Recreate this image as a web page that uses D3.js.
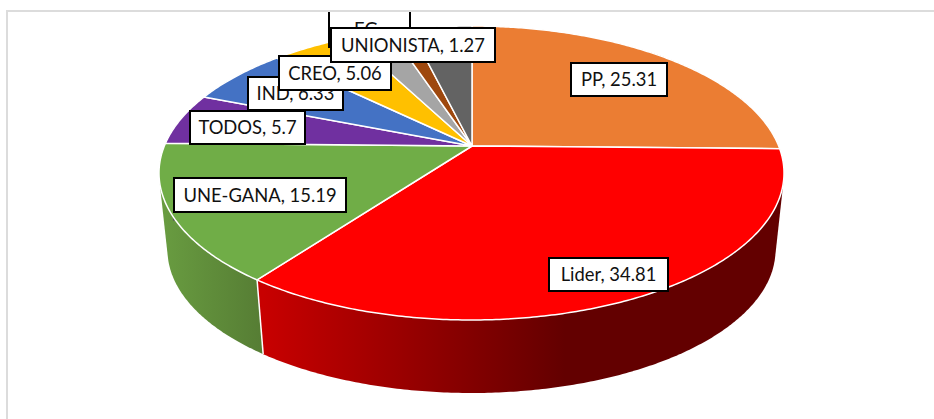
<!DOCTYPE html>
<html>
<head>
<meta charset="utf-8">
<script src="https://cdn.jsdelivr.net/npm/d3@7"></script>
<style>
  html, body { margin: 0; padding: 0; background: #fff; }
  svg { display: block; }
  text { font-family: Lato, "Open Sans", sans-serif; fill: #111; }
</style>
</head>
<body>
<svg></svg>
<script>
var width = 934,
  height = 419;

// slices, clockwise from 12 o'clock
var parties = ["PP", "Lider", "UNE-GANA", "TODOS", "IND", "CREO", "EG", "UNIONISTA", "Otros"];
var seatShare = [25.31, 34.81, 15.19, 5.7, 6.33, 5.06, 2.53, 1.27, 3.8];
var sliceColors = ["#eb7d33", "#ff0000", "#70ad47", "#7030a0", "#4472c4", "#ffc000", "#a5a5a5", "#9e480e", "#636363"];

// label text as it can be read, EG is cut off in the picture
var labelText = {
  "PP": "PP, 25.31",
  "Lider": "Lider, 34.81",
  "UNE-GANA": "UNE-GANA, 15.19",
  "TODOS": "TODOS, 5.7",
  "IND": "IND, 6.33",
  "CREO": "CREO, 5.06",
  "EG": "EG",
  "UNIONISTA": "UNIONISTA, 1.27"
};

// hand placed boxes, in drawing order: x0, y0, x1, y1
var labelBoxes = [
  ["PP", 571, 63, 667, 96],
  ["Lider", 549, 258, 668, 291],
  ["UNE-GANA", 174, 178, 346, 212],
  ["IND", 248, 77, 343, 110],
  ["TODOS", 190, 111, 305, 144],
  ["CREO", 279, 56, 391, 90],
  ["EG", 329, -10, 410, 47],
  ["UNIONISTA", 331, 28, 495, 62]
];

var svg = d3.select("svg")
  .attr("width", width)
  .attr("height", height);

var color = d3.scaleOrdinal().domain(parties).range(sliceColors);

var pie = d3.pie().sort(null).value(function (d) { return d.value; });
var slices = pie(parties.map(function (p, i) { return { name: p, value: seatShare[i] }; }));

// top and bottom rim of the tilted disc, the hub sits above the ellipse centre
var topRim = { cx: 471.5, cy: 173, rx: 312.5, ry: 147, hubX: 472, hubY: 146 };
var bottomRim = { cx: 471.5, cy: 250, rx: 304, ry: 143, hubX: 472, hubY: 224 };
var squash = 0.46;

// walk from the hub along the squashed direction until we hit the ellipse
function rimPoint(rim, angle) {
  var dx = Math.sin(angle), dy = -squash * Math.cos(angle);
  var ox = (rim.hubX - rim.cx) / rim.rx, oy = (rim.hubY - rim.cy) / rim.ry;
  var ux = dx / rim.rx, uy = dy / rim.ry;
  var a = ux * ux + uy * uy,
    b = 2 * (ox * ux + oy * uy),
    c = ox * ox + oy * oy - 1;
  var t = (-b + Math.sqrt(b * b - 4 * a * c)) / (2 * a);
  return [rim.hubX + t * dx, rim.hubY + t * dy];
}

function rimArc(rim, a0, a1) {
  var n = Math.max(2, Math.ceil((a1 - a0) / 0.01));
  return d3.range(n + 1).map(function (i) { return rimPoint(rim, a0 + (a1 - a0) * i / n); });
}

var edgeLine = d3.line();
var closedLine = d3.line().curve(d3.curveLinearClosed);

// side wall shading, only red and green show
var defs = svg.append("defs");
function wallGradient(id, x1, x2, from, to) {
  var g = defs.append("linearGradient")
    .attr("id", id)
    .attr("gradientUnits", "userSpaceOnUse")
    .attr("x1", x1).attr("x2", x2)
    .attr("y1", 0).attr("y2", 0);
  g.append("stop").attr("offset", 0).attr("stop-color", from);
  g.append("stop").attr("offset", 1).attr("stop-color", to);
}
wallGradient("wallLider", 263, 565, "#c80000", "#630000");
wallGradient("wallUne", 165, 262, "#689b40", "#567d34");

function wallFill(d) {
  if (d.data.name == "Lider") return "url(#wallLider)";
  if (d.data.name == "UNE-GANA") return "url(#wallUne)";
  return d3.color(color(d.data.name)).darker(1).toString();
}

// frame
svg.append("path")
  .attr("d", edgeLine([[7, height], [7, 11], [width, 11]]))
  .attr("fill", "none")
  .attr("stroke", "#dcdcdc")
  .attr("stroke-width", 2);

// hull of both rims so the wall runs tangent to the top ellipse at the sides
svg.append("g")
  .selectAll("path")
  .data(slices)
  .enter().append("path")
  .attr("d", function (d) {
    var upper = rimArc(topRim, d.startAngle, d.endAngle);
    var lower = rimArc(bottomRim, d.startAngle, d.endAngle);
    return closedLine(d3.polygonHull(upper.concat(lower)));
  })
  .attr("fill", wallFill);

// white seam down the wall, only where a slice edge faces the viewer
svg.append("g")
  .selectAll("path")
  .data(slices.filter(function (d) { return Math.cos(d.startAngle) < -0.5; }))
  .enter().append("path")
  .attr("d", function (d) {
    return edgeLine([rimPoint(topRim, d.startAngle), rimPoint(bottomRim, d.startAngle)]);
  })
  .attr("stroke", "#fff")
  .attr("stroke-width", 1.5);

svg.append("g")
  .selectAll("path")
  .data(slices)
  .enter().append("path")
  .attr("d", function (d) {
    return closedLine([[topRim.hubX, topRim.hubY]].concat(rimArc(topRim, d.startAngle, d.endAngle)));
  })
  .attr("fill", function (d) { return color(d.data.name); })
  .attr("stroke", "#fff")
  .attr("stroke-width", 1.5)
  .attr("stroke-linejoin", "round");

// labels, clipped where the frame cuts them off
defs.append("clipPath").attr("id", "plotClip")
  .append("rect")
  .attr("x", 0).attr("y", 12)
  .attr("width", width).attr("height", height);

var labels = svg.append("g")
  .attr("clip-path", "url(#plotClip)")
  .selectAll("g")
  .data(labelBoxes)
  .enter().append("g");

labels.append("rect")
  .attr("x", function (d) { return d[1]; })
  .attr("y", function (d) { return d[2]; })
  .attr("width", function (d) { return d[3] - d[1]; })
  .attr("height", function (d) { return d[4] - d[2]; })
  .attr("fill", "#fff")
  .attr("stroke", "#000")
  .attr("stroke-width", 2);

labels.append("text")
  .attr("x", function (d) { return d[0] == "EG" ? 366 : (d[1] + d[3]) / 2; })
  .attr("y", function (d) { return d[0] == "EG" ? 36 : (d[2] + d[4]) / 2 + 6.5; })
  .attr("text-anchor", "middle")
  .attr("font-size", 18.4)
  .text(function (d) { return labelText[d[0]]; });
</script>
</body>
</html>
